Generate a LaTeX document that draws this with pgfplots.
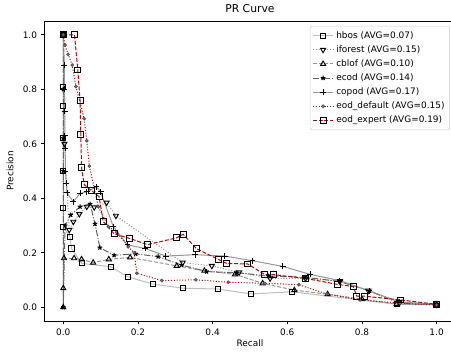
\documentclass[border=0pt]{standalone}
\usepackage{fontspec}
\setmainfont{DejaVu Sans}
\usepackage{pgfplots}
\pgfplotsset{compat=1.18}
\definecolor{edred}{RGB}{170,10,10}
\definecolor{lgr}{RGB}{190,190,190}
\definecolor{mgr}{RGB}{150,150,150}
\definecolor{dgr}{RGB}{100,100,100}
\begin{document}
\begin{tikzpicture}
\path[use as bounding box] (-33.45pt,-22.6pt) rectangle (304.8pt,240.7pt);
\begin{axis}[
  at={(0pt,0pt)}, anchor=south west,
  scale only axis, width=308pt, height=224.85pt,
  xmin=-0.05, xmax=1.05, ymin=-0.05, ymax=1.05,
  xtick={0,0.2,...,1.0}, ytick={0,0.2,...,1.0},
  tick pos=left, tick align=outside, major tick length=2.6pt,
  every tick/.style={black, line width=0.6pt},
  axis line style={line width=0.6pt},
  /pgf/number format/assume math mode=true,
  /pgf/number format/.cd, fixed, fixed zerofill, precision=1, /pgfplots/.cd,
  ticklabel style={font=\fontsize{6.7}{8}\selectfont},
  xticklabel style={inner sep=0pt, anchor=north, yshift=-2.9pt},
  yticklabel style={inner sep=0pt, anchor=east, xshift=-2.9pt},
  title={PR Curve},
  title style={font=\fontsize{8.1}{9.7}\selectfont, at={(0.5,1)}, anchor=center, yshift=3.4pt},
  xlabel={Recall}, ylabel={Precision},
  xlabel style={font=\fontsize{6.7}{8}\selectfont, at={(axis description cs:0.5,0)}, anchor=center, yshift=-16.8pt},
  ylabel style={font=\fontsize{6.7}{8}\selectfont, at={(axis description cs:0,0.5)}, anchor=center, yshift=26pt},
  legend style={at={(0.987,0.984)}, anchor=north east, font=\fontsize{6.7}{8}\selectfont,
    draw=black!20, rounded corners=1.5pt, fill=white, fill opacity=0.8, text opacity=1,
    row sep=0pt, inner sep=1.8pt},
  legend cell align=left,
  legend image code/.code={\draw[mark repeat=2,mark phase=2,#1] plot coordinates {(0cm,0cm)(0.265cm,0cm)(0.53cm,0cm)};},
  every axis plot/.append style={line width=0.75pt},
]
% hbos
\addplot[color=lgr, solid, mark=square, mark size=1.9pt, mark options={solid, draw=black, fill=white, line width=0.7pt}] coordinates {
(0,1.0)(0,0.81)(0,0.74)(0,0.62)(0,0.5)(0,0.363)(0,0.296)(0.018,0.259)(0.022,0.216)(0.049,0.161)(0.127,0.149)(0.174,0.111)(0.241,0.085)(0.321,0.07)(0.415,0.067)(0.503,0.049)(0.612,0.057)(0.893,0.011)(1.0,0.011)};
\addlegendentry{hbos (AVG=0.07)}
% iforest
\addplot[color=mgr, dash pattern=on 0.8pt off 1.3pt, mark=triangle, mark size=2.2pt, mark options={solid, rotate=180, draw=black, fill=white, line width=0.7pt}] coordinates {
(0,1)(0.003,0.6)(0.016,0.284)(0.027,0.314)(0.043,0.342)(0.063,0.369)(0.083,0.367)(0.116,0.384)(0.141,0.336)(0.32,0.164)(0.398,0.152)(0.471,0.128)(0.554,0.106)(0.649,0.106)(0.741,0.096)(0.817,0.061)(0.9,0.02)(1.0,0.01)};
\addlegendentry{iforest (AVG=0.15)}
% cblof
\addplot[color=mgr, dash pattern=on 3pt off 1.3pt, mark=triangle, mark size=2.2pt, mark options={solid, draw=black, fill=white, line width=0.7pt}] coordinates {
(0,1)(0,0)(0,0.07)(0.002,0.18)(0.029,0.18)(0.049,0.176)(0.08,0.164)(0.122,0.176)(0.179,0.183)(0.304,0.152)(0.378,0.134)(0.46,0.121)(0.534,0.088)(0.619,0.063)(0.708,0.048)(0.8,0.03)(0.893,0.012)(1.0,0.01)};
\addlegendentry{cblof (AVG=0.10)}
% ecod
\addplot[color=dgr, dash pattern=on 4.8pt off 1.2pt on 0.8pt off 1.2pt, mark=star, mark size=1.8pt, mark options={solid, draw=black, fill=black, line width=0.8pt}] coordinates {
(0,1)(0,0.8)(0,0.62)(0,0.5)(0,0)(0.005,0.3)(0.02,0.339)(0.045,0.369)(0.072,0.379)(0.085,0.306)(0.098,0.219)(0.136,0.191)(0.194,0.196)(0.254,0.186)(0.317,0.155)(0.384,0.131)(0.464,0.127)(0.55,0.115)(0.647,0.11)(0.74,0.095)(0.82,0.06)(0.9,0.015)(1.0,0.01)};
\addlegendentry{ecod (AVG=0.14)}
% copod
\addplot[color=mgr, solid, mark=+, mark size=2.2pt, mark options={solid, draw=black, line width=0.7pt}] coordinates {
(0,1)(0.003,0.889)(0.003,0.8)(0.004,0.72)(0.004,0.63)(0.005,0.583)(0.006,0.5)(0.008,0.455)(0.01,0.42)(0.027,0.387)(0.045,0.418)(0.063,0.424)(0.089,0.442)(0.1,0.424)(0.134,0.296)(0.172,0.229)(0.219,0.216)(0.275,0.188)(0.353,0.193)(0.433,0.188)(0.507,0.171)(0.588,0.15)(0.661,0.121)(0.741,0.098)(0.82,0.06)(0.9,0.02)(1.0,0.01)};
\addlegendentry{copod (AVG=0.17)}
% eod_default
\addplot[color=edred, dash pattern=on 0.8pt off 1.3pt, mark=*, mark size=1.1pt, mark options={solid, draw=black!70, fill=gray, line width=0.5pt}] coordinates {
(0,1)(0.0045,0.962)(0.013,0.928)(0.024,0.889)(0.034,0.81)(0.056,0.692)(0.063,0.611)(0.07,0.518)(0.094,0.369)(0.121,0.296)(0.143,0.276)(0.174,0.222)(0.19,0.2)(0.197,0.125)(0.264,0.098)(0.355,0.101)(0.442,0.092)(0.54,0.088)(0.631,0.083)(0.706,0.049)(0.795,0.027)(0.902,0.015)(1.0,0.008)};
\addlegendentry{eod\_default (AVG=0.15)}
% eod_expert
\addplot[color=edred, dash pattern=on 3pt off 1.3pt, mark=square, mark size=2.2pt, mark options={solid, draw=black, fill=white, line width=0.7pt}] coordinates {
(0,1)(0.03,1.0)(0.039,0.871)(0.045,0.758)(0.047,0.635)(0.049,0.512)(0.056,0.45)(0.076,0.428)(0.096,0.406)(0.107,0.315)(0.136,0.27)(0.177,0.253)(0.226,0.23)(0.304,0.255)(0.321,0.268)(0.357,0.215)(0.415,0.176)(0.438,0.161)(0.494,0.159)(0.54,0.12)(0.563,0.12)(0.649,0.106)(0.735,0.084)(0.777,0.076)(0.786,0.041)(0.806,0.041)(0.904,0.027)(1.0,0.011)};
\addlegendentry{eod\_expert (AVG=0.19)}
\end{axis}
\end{tikzpicture}
\end{document}
